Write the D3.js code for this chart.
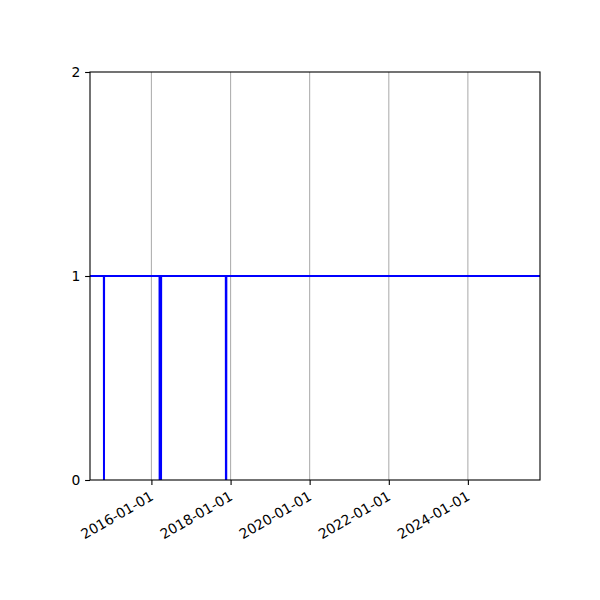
<!DOCTYPE html>
<html>
<head>
<meta charset="utf-8">
<script src="https://cdn.jsdelivr.net/npm/d3@7"></script>
<style>
  html, body { margin: 0; padding: 0; background: #fff; }
  svg { display: block; font-family: "DejaVu Sans", sans-serif; }
</style>
</head>
<body>
<svg id="chart" width="600" height="600"></svg>
<script>
// Line points (date, value): flat at 1 with three drops to 0
const dates = ['2014-06-13', '2014-10-19', '2014-10-20', '2014-10-21',
  '2016-03-16', '2016-03-17', '2016-03-30', '2016-03-31',
  '2017-11-18', '2017-11-19', '2017-11-22', '2017-11-23', '2025-10-28'];
const values = [1, 1, 0, 1, 1, 0, 0, 1, 1, 0, 0, 1, 1];

const xDomain = ['2014-06-13', '2025-10-28'];
const xTicks = ['2016-01-01', '2018-01-01', '2020-01-01', '2022-01-01', '2024-01-01'];
const yTicks = [0, 1, 2];

const margin = { left: 90, right: 60, top: 72, bottom: 120 };
const width = 600, height = 600;
const fontSize = 13.89;

const parse = d3.utcParse('%Y-%m-%d');
const fmt = d3.utcFormat('%Y-%m-%d');
const data = dates.map((d, i) => ({ date: parse(d), value: values[i] }));

const svg = d3.select('#chart');

const x = d3.scaleUtc()
  .domain(xDomain.map(parse))
  .range([margin.left, width - margin.right]);
const y = d3.scaleLinear()
  .domain([0, 2])
  .range([height - margin.bottom, margin.top]);

// vertical grid lines
svg.append('g')
  .selectAll('line')
  .data(xTicks.map(parse))
  .join('line')
  .attr('x1', d => x(d)).attr('x2', d => x(d))
  .attr('y1', y(0)).attr('y2', y(2))
  .attr('stroke', '#b0b0b0')
  .attr('stroke-width', 1.1);

// clip for the line
svg.append('clipPath').attr('id', 'clip')
  .append('rect')
  .attr('x', margin.left).attr('y', margin.top)
  .attr('width', width - margin.left - margin.right)
  .attr('height', height - margin.top - margin.bottom);

const line = d3.line()
  .x(d => x(d.date))
  .y(d => y(d.value));

svg.append('path')
  .datum(data)
  .attr('clip-path', 'url(#clip)')
  .attr('fill', 'none')
  .attr('stroke', '#0000ff')
  .attr('stroke-width', 2)
  .attr('stroke-linejoin', 'miter')
  .attr('d', line);

// x axis
const xAxis = svg.append('g')
  .attr('transform', `translate(0,${y(0)})`)
  .call(d3.axisBottom(x).tickValues(xTicks.map(parse)).tickFormat(fmt).tickSizeOuter(0).tickSize(4.9).tickPadding(0));
xAxis.select('.domain').remove();
xAxis.selectAll('.tick line').attr('stroke', '#000').attr('stroke-width', 1.1);
xAxis.selectAll('.tick text')
  .attr('font-size', fontSize)
  .attr('font-family', '"DejaVu Sans", sans-serif')
  .attr('fill', '#000')
  .attr('text-anchor', 'end')
  .attr('y', 0)
  .attr('dy', '0.93em')
  .attr('transform', 'translate(-4,8) rotate(-30)');

// y axis
const yAxis = svg.append('g')
  .attr('transform', `translate(${margin.left},0)`)
  .call(d3.axisLeft(y).tickValues(yTicks).tickFormat(d3.format('d')).tickSizeOuter(0).tickSize(4.9).tickPadding(4.9));
yAxis.select('.domain').remove();
yAxis.selectAll('.tick line').attr('stroke', '#000').attr('stroke-width', 1.1);
yAxis.selectAll('.tick text')
  .attr('font-size', fontSize)
  .attr('font-family', '"DejaVu Sans", sans-serif')
  .attr('fill', '#000');

// axes frame
svg.append('rect')
  .attr('x', margin.left).attr('y', margin.top)
  .attr('width', width - margin.left - margin.right)
  .attr('height', height - margin.top - margin.bottom)
  .attr('fill', 'none')
  .attr('stroke', '#000')
  .attr('stroke-width', 1.1);
</script>
</body>
</html>
